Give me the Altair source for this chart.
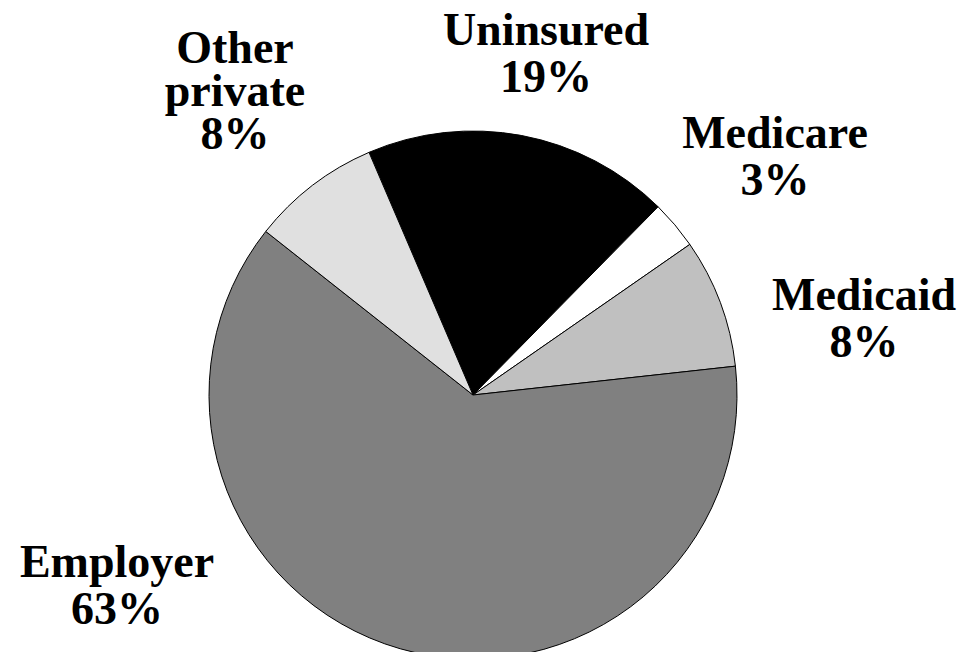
import math
import altair as alt
import pandas as pd

# ---- data ----
categories = ["Uninsured", "Medicare", "Medicaid", "Employer", "Other private"]
shares = [19, 3, 8, 63, 8]
slice_order = [1, 2, 3, 4, 5]

# ---- styling (not data) ----
fill_colors = ["#000000", "#ffffff", "#c0c0c0", "#808080", "#e0e0e0"]
start = math.radians(-23.2)
cx, cy, R = 465, 387, 264
FONT = "Liberation Serif"
FS = 46

df = pd.DataFrame({"category": categories, "share": shares, "order": slice_order})

pie = alt.Chart(df).mark_arc(radius=R, stroke="#000000", strokeWidth=1).encode(
    theta=alt.Theta("share:Q", stack=True,
                    scale=alt.Scale(range=[start, start + 2 * math.pi])),
    order=alt.Order("order:Q"),
    color=alt.Color("category:N",
                    scale=alt.Scale(domain=categories, range=fill_colors),
                    legend=None),
    x=alt.value(cx),
    y=alt.value(cy),
)

# label anchor positions (centre x, first baseline y, line height) in chart pixels
label_pos = {
    "Uninsured": (538, 37, 47),
    "Medicare": (767, 140, 47),
    "Medicaid": (856, 302, 47),
    "Employer": (109, 569, 47),
    "Other private": (227, 55, 43),
}

layers = [pie]
for cat, sh in zip(categories, shares):
    lines = cat.split(" ") + [f"{sh}%"]
    px, py, lh = label_pos[cat]
    layers.append(
        alt.Chart(df).mark_text(
            text=lines, font=FONT, fontSize=FS, fontWeight="bold",
            align="center", baseline="alphabetic", lineHeight=lh,
            color="#000000",
        ).encode(x=alt.value(px), y=alt.value(py))
        .transform_filter(alt.datum.category == cat)
    )

chart = alt.layer(*layers).properties(
    width=956, height=644, padding=0,
    autosize=alt.AutoSizeParams(type="fit", contains="padding"),
).configure_view(stroke=None)

chart.save("out.html", embed_options={"renderer": "svg", "actions": False})
